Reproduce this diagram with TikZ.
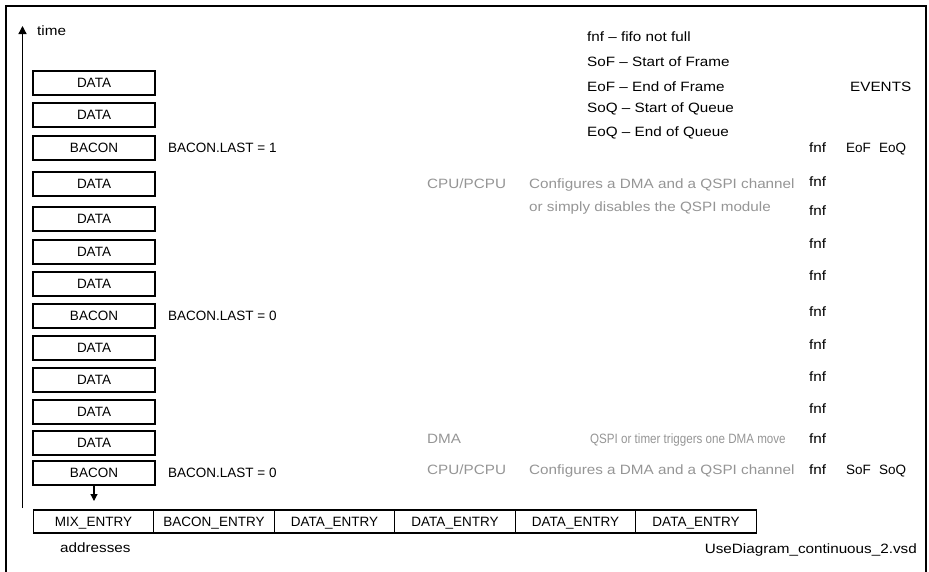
\documentclass[tikz,border=0pt]{standalone}
\usepackage{fontspec}
\setmainfont{Liberation Sans}
\newfontfamily\widefont[FakeStretch=1.13]{Liberation Sans}
\newfontfamily\narrowfont[FakeStretch=0.86]{Liberation Sans}
\usetikzlibrary{arrows.meta}
\definecolor{greytxt}{HTML}{959595}
\begin{document}
\begin{tikzpicture}[x=1pt,y=-1pt,
  font=\fontsize{13.5}{16}\selectfont,
  txt/.style={inner sep=0pt, text height=9.6pt, text depth=0pt, anchor=west},
  wtxt/.style={txt, font=\fontsize{13.5}{16}\selectfont\widefont},
  gtxt/.style={wtxt, text=greytxt},
  blk/.style={draw, line width=1.2pt, minimum width=122pt, minimum height=24pt, inner sep=0pt, text height=9.6pt, text depth=0pt},
  cell/.style={draw, line width=1.2pt, minimum width=120.5pt, minimum height=23pt, inner sep=0pt, text height=9.6pt, text depth=0pt},
  axisline/.style={line width=1.3pt, -{Triangle[length=8pt,width=8pt]}},
  smallarrow/.style={line width=1.1pt, -{Triangle[length=7pt,width=7pt]}}
]
\clip (0,0) rectangle (929,571);
\draw[line width=1.4pt] (6,6) rectangle (926,580);

% time axis
\coordinate (tb) at (22.5,508);
\coordinate (tt) at (22.5,26);
\draw[axisline] (tb) -- (tt);
\node[wtxt] (time) at (37,31) {time};

% stack of blocks
\node[blk] (b1) at (94,83) {DATA};
\node[blk] (b2) at (94,115) {DATA};
\node[blk] (b3) at (94,148) {BACON};
\node[blk] (b4) at (94,184) {DATA};
\node[blk] (b5) at (94,219) {DATA};
\node[blk] (b6) at (94,252) {DATA};
\node[blk] (b7) at (94,284) {DATA};
\node[blk] (b8) at (94,316) {BACON};
\node[blk] (b9) at (94,348) {DATA};
\node[blk] (b10) at (94,380) {DATA};
\node[blk] (b11) at (94,412) {DATA};
\node[blk] (b12) at (94,443) {DATA};
\node[blk] (b13) at (94,473) {BACON};

\coordinate (bt) at (94,501);
\draw[smallarrow] (b13.south) -- (bt);

% BACON.LAST labels
\node[txt] (l1) at (168,148) {BACON.LAST = 1};
\node[txt] (l2) at (168,316) {BACON.LAST = 0};
\node[txt] (l3) at (168,473) {BACON.LAST = 0};

% grey descriptions
\node[gtxt] (g1) at (427,184) {CPU/PCPU};
\node[gtxt] (g2) at (529,184) {Configures a DMA and a QSPI channel};
\node[gtxt] (g3) at (529,207) {or simply disables the QSPI module};
\node[gtxt] (g4) at (427,439) {DMA};
\node[txt, text=greytxt, font=\fontsize{13.5}{16}\selectfont\narrowfont] (g5) at (590,439) {QSPI or timer triggers one DMA move};
\node[gtxt] (g6) at (427,470) {CPU/PCPU};
\node[gtxt] (g7) at (529,470) {Configures a DMA and a QSPI channel};

% legend
\node[wtxt] (lg1) at (587,37) {fnf \textendash{} fifo not full};
\node[wtxt] (lg2) at (587,62) {SoF \textendash{} Start of Frame};
\node[wtxt] (lg3) at (587,87) {EoF \textendash{} End of Frame};
\node[wtxt] (lg4) at (587,108) {SoQ \textendash{} Start of Queue};
\node[wtxt] (lg5) at (587,132) {EoQ \textendash{} End of Queue};
\node[wtxt] (ev) at (850,87) {EVENTS};

% events column
\foreach \y [count=\i] in {148,182,211,244,276,312,345,377,409,439,470}
  \node[wtxt] (f\i) at (809,\y) {fnf};
\node[txt] (e1) at (846,148) {EoF};
\node[txt] (e2) at (879,148) {EoQ};
\node[txt] (s1) at (846,470) {SoF};
\node[txt] (s2) at (879,470) {SoQ};

% address row
\node[cell] (c1) at (93.5,521.5) {MIX\_ENTRY};
\node[cell] (c2) at (214,521.5) {BACON\_ENTRY};
\node[cell] (c3) at (334.5,521.5) {DATA\_ENTRY};
\node[cell] (c4) at (455,521.5) {DATA\_ENTRY};
\node[cell] (c5) at (575.5,521.5) {DATA\_ENTRY};
\node[cell] (c6) at (696,521.5) {DATA\_ENTRY};
\node[wtxt] (addr) at (60,548) {addresses};
\node[wtxt, anchor=east] (file) at (917,549) {UseDiagram\_continuous\_2.vsd};
\end{tikzpicture}
\end{document}
